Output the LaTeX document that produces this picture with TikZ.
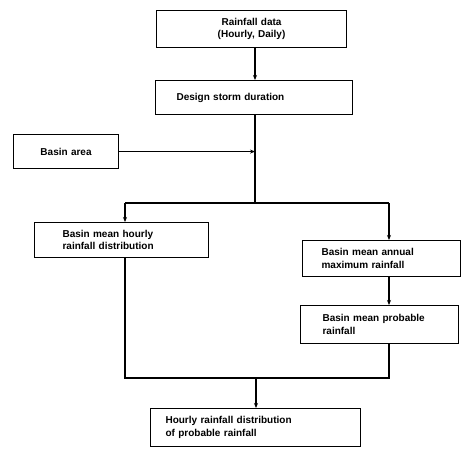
\documentclass[tikz,border=0pt]{standalone}
\usepackage{fontspec}
\setmainfont{Liberation Sans}
\usetikzlibrary{arrows.meta}
\begin{document}
\begin{tikzpicture}[x=1pt,y=-1pt,
  box/.style={draw, line width=1.1pt, anchor=north west, inner ysep=0pt,
    font=\bfseries\fontsize{10}{12.5}\selectfont, align=left},
  flow/.style={line width=1.2pt},
  arr/.style={flow, -{Stealth[length=5pt,width=4pt]}},
  thinarr/.style={line width=0.8pt, -{Stealth[length=5pt,width=4pt]}}]
\useasboundingbox (0,0) rectangle (464,448);

% process boxes
\node[box, align=center, minimum width=190pt, minimum height=37pt, text width=170pt, inner xsep=10pt]
  (rain) at (156,10) {Rainfall data\\(Hourly, Daily)};
\node[box, minimum width=197pt, minimum height=34pt, text width=155pt, inner xsep=21pt]
  (storm) at (155,80) {Design storm duration};
\node[box, align=center, minimum width=105pt, minimum height=34pt, text width=85pt, inner xsep=10pt]
  (area) at (13,134) {Basin area};
\node[box, minimum width=174pt, minimum height=35pt, text width=118pt, inner xsep=28pt]
  (hourly) at (34,222) {Basin mean hourly\\rainfall distribution};
\node[box, minimum width=158pt, minimum height=36pt, text width=120pt, inner xsep=19pt]
  (annual) at (302,240) {Basin mean annual\\maximum rainfall};
\node[box, minimum width=158pt, minimum height=38pt, text width=114pt, inner xsep=22pt]
  (prob) at (300,305) {Basin mean probable\\rainfall};
\node[box, minimum width=210pt, minimum height=38pt, text width=180pt, inner xsep=15pt]
  (out) at (150,408) {Hourly rainfall distribution\\of probable rainfall};

% junction points of the connector network
\coordinate (split) at (255,203);
\coordinate (sl) at (125,203);
\coordinate (sr) at (389,203);
\coordinate (ml) at (125,378);
\coordinate (mr) at (389,378);
\coordinate (mc) at (256,378);

% connectors
\draw[arr] (rain.south -| split) -- (storm.north -| split);
\draw[flow] (storm.south -| split) -- (split);
\draw[thinarr] (area.east) -- (area.east -| split);
\draw[flow] (sl) -- (sr);
\draw[arr] (sl) -- (hourly.north -| sl);
\draw[arr] (sr) -- (annual.north -| sr);
\draw[arr] (annual.south -| sr) -- (prob.north -| sr);
\draw[flow] (prob.south -| sr) -- (mr) -- (ml) -- (hourly.south -| ml);
\draw[arr] (mc) -- (out.north -| mc);
\end{tikzpicture}
\end{document}
